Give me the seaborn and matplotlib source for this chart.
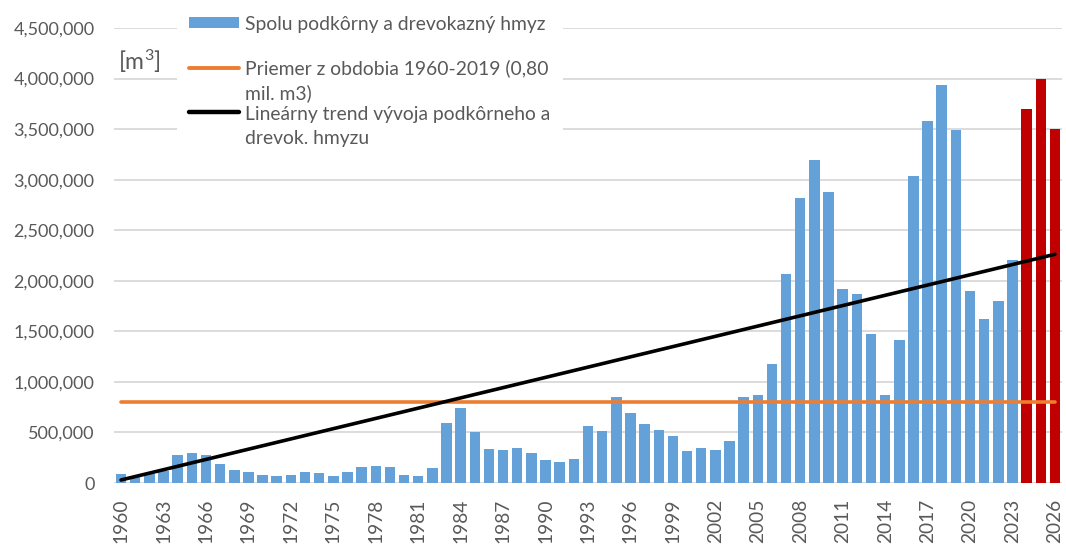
import numpy as np
import pandas as pd
import matplotlib
matplotlib.use("Agg")
import matplotlib.pyplot as plt
from matplotlib.patches import Rectangle
from matplotlib.lines import Line2D
from matplotlib.ticker import FuncFormatter
import seaborn as sns

# ---------------- data ----------------
years = list(range(1960, 2027))
values = [
    93000, 73000, 93000, 117000, 273000, 297000, 273000, 183000, 133000, 110000,   # 1960-1969
    83000, 70000, 83000, 110000, 97000, 70000, 110000, 160000, 173000, 160000,     # 1970-1979
    83000, 70000, 147000, 590000, 740000, 500000, 333000, 323000, 347000, 300000,  # 1980-1989
    223000, 210000, 235000, 560000, 510000, 853000, 691000, 579000, 520000, 467000,  # 1990-1999
    316000, 342000, 329000, 418000, 853000, 866000, 1175000, 2067000, 2820000, 3190000,  # 2000-2009
    2874000, 1916000, 1870000, 1475000, 866000, 1412000, 3039000, 3585000, 3934000, 3490000,  # 2010-2019
    1896000, 1623000, 1798000, 2206000, 3700000, 4000000, 3500000,  # 2020-2026
]
forecast_years = [2024, 2025, 2026]
average_value = 800000          # priemer 1960-2019
trend_start = 30000             # trend value at 1960
trend_end = 2262000             # trend value at 2026

legend_labels = [
    "Spolu podkôrny a drevokazný hmyz",
    "Priemer z obdobia 1960-2019 (0,80\nmil. m3)",
    "Lineárny trend vývoja podkôrneho a\ndrevok. hmyzu",
]
unit_label = "[m$^{3}$]"

# ---------------- style ----------------
sns.set_theme(style="white")
plt.rcParams["font.family"] = ["Lato", "DejaVu Sans"]
plt.rcParams["mathtext.default"] = "regular"

BLUE = "#64a1d8"
RED = "#c00000"
ORANGE = "#ed7d31"
BLACK = "#000000"
GRID = "#d9d9d9"
TXT = "#595959"

W, H = 1066, 545
fig = plt.figure(figsize=(W / 100, H / 100), dpi=100)

def fx(px):
    return px / W

def fy(py):
    return 1 - py / H

ax = fig.add_axes([fx(114), fy(483), fx(1062) - fx(114), fy(28) - fy(483)])

df = pd.DataFrame({
    "year": [str(y) for y in years],
    "value": values,
    "kind": ["forecast" if y in forecast_years else "actual" for y in years],
})

sns.barplot(data=df, x="year", y="value", hue="kind",
            palette={"actual": BLUE, "forecast": RED},
            dodge=False, width=0.74, saturation=1, legend=False,
            linewidth=0, ax=ax, zorder=2)

n = len(years)
ax.plot([0, n - 1], [average_value, average_value], color=ORANGE, lw=2.6,
        solid_capstyle="round", zorder=3)
ax.plot([0, n - 1], [trend_start, trend_end], color=BLACK, lw=2.6,
        solid_capstyle="round", zorder=4)

ax.set_xlim(-0.5, n - 0.5)
ax.set_ylim(0, 4500000)
ax.set_yticks(np.arange(0, 4500001, 500000))
ax.yaxis.set_major_formatter(FuncFormatter(lambda v, p: f"{int(v):,}"))
ax.set_xticks(range(0, n, 3))
ax.set_xticklabels([str(y) for y in years[::3]], rotation=90)

ax.grid(axis="y", color=GRID, lw=1.3, zorder=0)
ax.grid(axis="x", visible=False)
ax.set_axisbelow(True)
for s in ax.spines.values():
    s.set_visible(False)
ax.set_xlabel("")
ax.set_ylabel("")
ax.tick_params(axis="y", length=0, pad=14, labelsize=13, labelcolor=TXT)
ax.tick_params(axis="x", length=0, pad=11, labelsize=13.8, labelcolor=TXT)

# ---------------- legend (Excel-like, drawn manually) ----------------
fig.add_artist(Rectangle((fx(177), fy(160)), fx(563) - fx(177), fy(6) - fy(160),
                         transform=fig.transFigure, facecolor="white",
                         edgecolor="none", zorder=5))
fig.add_artist(Rectangle((fx(189), fy(28)), fx(239) - fx(189), fy(17) - fy(28),
                         transform=fig.transFigure, facecolor=BLUE,
                         edgecolor="none", zorder=6))
fig.add_artist(Line2D([fx(189), fx(239)], [fy(68), fy(68)], transform=fig.transFigure,
                      color=ORANGE, lw=2.8, zorder=6))
fig.add_artist(Line2D([fx(189), fx(239)], [fy(112), fy(112)], transform=fig.transFigure,
                      color=BLACK, lw=3.2, zorder=6))

baselines = [[30], [74, 99], [120, 144]]
for label, bl in zip(legend_labels, baselines):
    for line, b in zip(label.split("\n"), bl):
        fig.text(fx(245), fy(b), line, fontsize=13.9, color=TXT,
                 va="baseline", ha="left", zorder=7)

fig.text(fx(118), fy(70), unit_label, fontsize=16.5, color=TXT,
         va="baseline", ha="left", zorder=7)

fig.savefig("out.png", dpi=100)
